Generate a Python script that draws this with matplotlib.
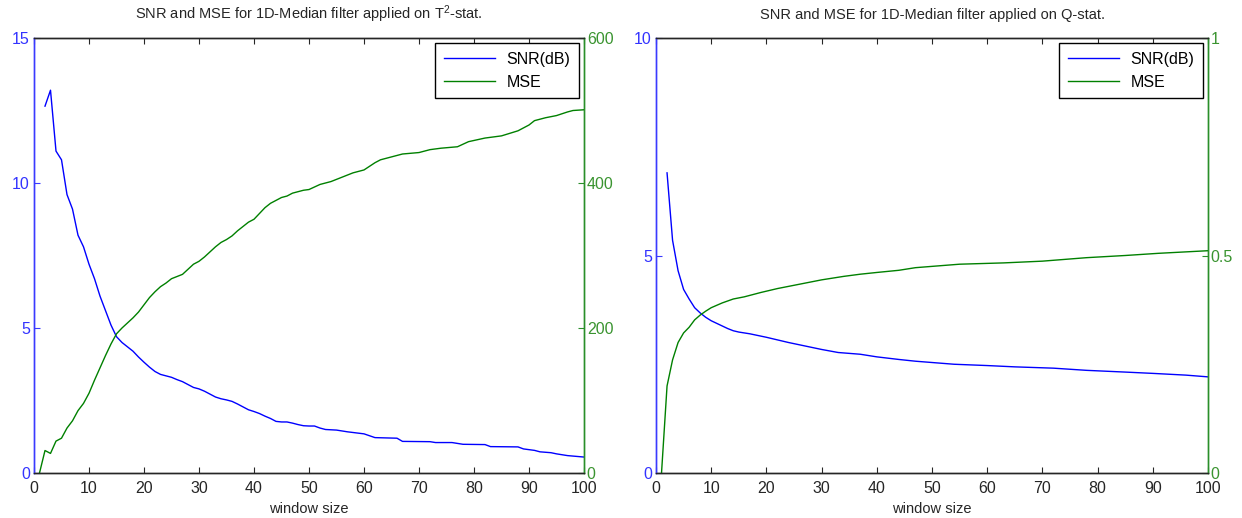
import matplotlib
matplotlib.use("Agg")
import matplotlib.pyplot as plt

plt.rcParams['font.family'] = ['Liberation Sans', 'DejaVu Sans']
plt.rcParams['mathtext.default'] = 'regular'

# ---- T^2-stat data ----
t2_snr_x = [2, 3, 4, 5, 6, 7, 8, 9, 10, 11, 12, 13, 14, 15, 16, 17, 18, 19, 20,
            21, 22, 23, 24, 25, 26, 27, 28, 29, 30, 31, 32, 33, 34, 35, 36, 37, 38,
            39, 40, 41, 42, 43, 44, 45, 46, 47, 48, 49, 50, 51, 52, 53, 55, 57, 60,
            62, 66, 67, 72, 73, 76, 78, 82, 83, 88, 89, 91, 92, 94, 95, 97, 100]
t2_snr_y = [12.65, 13.2, 11.1, 10.8, 9.6, 9.1, 8.2, 7.8, 7.2, 6.7, 6.1, 5.6, 5.1, 4.7,
            4.5, 4.35, 4.2, 4.0, 3.82, 3.65, 3.5, 3.4, 3.35, 3.3, 3.22, 3.15, 3.05, 2.95,
            2.9, 2.82, 2.72, 2.62, 2.56, 2.52, 2.47, 2.38, 2.28, 2.18, 2.12, 2.05, 1.96,
            1.88, 1.78, 1.76, 1.76, 1.72, 1.67, 1.63, 1.62, 1.62, 1.55, 1.5, 1.48, 1.42,
            1.35, 1.22, 1.2, 1.09, 1.08, 1.05, 1.05, 0.99, 0.98, 0.91, 0.9, 0.83, 0.78,
            0.73, 0.7, 0.66, 0.6, 0.55]
t2_mse_x = [1, 2, 3, 4, 5, 6, 7, 8, 9, 10, 11, 12, 13, 14, 15, 16, 17, 18, 19, 20,
            21, 22, 23, 24, 25, 26, 27, 28, 29, 30, 31, 32, 33, 34, 35, 36, 37, 38, 39,
            40, 41, 42, 43, 44, 45, 46, 47, 48, 49, 50, 52, 54, 56, 58, 60, 62, 63, 65,
            67, 70, 72, 74, 77, 79, 82, 85, 88, 90, 91, 93, 95, 97, 98, 100]
t2_mse_y = [0, 31, 27, 44, 48, 62, 72, 86, 96, 110, 128, 145, 162, 178, 192, 200, 207,
            214, 222, 232, 242, 250, 257, 262, 268, 271, 274, 281, 288, 292, 298, 305,
            312, 318, 322, 327, 334, 340, 346, 350, 358, 366, 372, 376, 380, 382, 386,
            388, 390, 391, 398, 402, 408, 414, 418, 428, 432, 436, 440, 442, 446, 448,
            450, 457, 462, 465, 472, 480, 486, 490, 493, 498, 500, 501]

# ---- Q-stat data ----
q_snr_x = [2, 3, 4, 5, 6, 7, 8, 9, 10, 11, 12, 13, 14, 15, 17, 20, 22, 24, 27, 30,
           33, 37, 40, 44, 47, 50, 54, 60, 65, 72, 78, 85, 90, 96, 100]
q_snr_y = [6.9, 5.35, 4.65, 4.22, 4.0, 3.8, 3.68, 3.58, 3.5, 3.44, 3.38, 3.32, 3.27,
           3.24, 3.2, 3.12, 3.06, 3.0, 2.92, 2.84, 2.77, 2.73, 2.67, 2.61, 2.57, 2.54,
           2.5, 2.47, 2.44, 2.41, 2.36, 2.32, 2.29, 2.25, 2.21]
q_mse_x = [1, 2, 3, 4, 5, 6, 7, 8, 9, 10, 12, 14, 16, 19, 22, 26, 30, 34, 37, 40, 44,
           47, 55, 63, 70, 78, 85, 91, 100]
q_mse_y = [0, 0.2, 0.26, 0.3, 0.322, 0.335, 0.352, 0.363, 0.372, 0.38, 0.391, 0.4,
           0.405, 0.415, 0.424, 0.434, 0.444, 0.452, 0.457, 0.461, 0.466, 0.472, 0.48,
           0.483, 0.487, 0.495, 0.5, 0.505, 0.511]

x_ticks = list(range(0, 101, 10))
t2_snr_ticks = [0, 5, 10, 15]
t2_mse_ticks = [0, 200, 400, 600]
q_snr_ticks = [0, 5, 10]
q_mse_ticks = [0, 0.5, 1]
q_mse_labels = ['0', '0.5', '1']

titles = ['SNR and MSE for 1D-Median filter applied on T$^{2}$-stat.',
          'SNR and MSE for 1D-Median filter applied on Q-stat.']
xlabel = 'window size'
labels = ['SNR(dB)', 'MSE']

BLUE = '#0000ff'
GREEN = '#008000'
BLUE_AX = '#3a3aff'
GREEN_AX = '#2a8f2a'
BLUE_TXT = '#3333ff'
GREEN_TXT = '#3a9430'
DARK = '#262626'

fig = plt.figure(figsize=(12.42, 5.18), dpi=100)
H = 518.0
W = 1242.0
bottom = (H - 473) / H
height = (473 - 38) / H
positions = [(34 / W, bottom, (584 - 34) / W, height),
             (656 / W, bottom, (1208 - 656) / W, height)]

datasets = [
    (t2_snr_x, t2_snr_y, t2_mse_x, t2_mse_y, t2_snr_ticks, t2_mse_ticks, None),
    (q_snr_x, q_snr_y, q_mse_x, q_mse_y, q_snr_ticks, q_mse_ticks, q_mse_labels),
]

for i, (sx, sy, mx, my, sticks, mticks, mlabels) in enumerate(datasets):
    ax = fig.add_axes(positions[i])
    ax2 = ax.twinx()
    l1, = ax.plot(sx, sy, color=BLUE, lw=1.0)
    l2, = ax2.plot(mx, my, color=GREEN, lw=1.0)
    ax.set_xlim(0, 100)
    ax.set_ylim(sticks[0], sticks[-1])
    ax2.set_ylim(mticks[0], mticks[-1])
    ax.set_xticks(x_ticks)
    ax.set_yticks(sticks)
    ax2.set_yticks(mticks)
    if mlabels is not None:
        ax2.set_yticklabels(mlabels)
    ax.tick_params(axis='x', direction='in', top=True, length=4, labelsize=11.5,
                   colors=DARK, pad=6)
    ax.tick_params(axis='y', direction='in', length=4, labelsize=11.5, color=BLUE_AX,
                   labelcolor=BLUE_TXT, pad=3)
    ax2.tick_params(axis='y', direction='in', length=4, labelsize=11.5, color=GREEN_AX,
                    labelcolor=GREEN_TXT, pad=2)
    for a in (ax, ax2):
        for s in a.spines.values():
            s.set_linewidth(1.0)
        a.spines['top'].set_color(DARK)
        a.spines['bottom'].set_color(DARK)
        a.spines['left'].set_color(BLUE_AX)
        a.spines['right'].set_color(GREEN_AX)
    ax.set_title(titles[i], fontsize=10.5, color=DARK, pad=14)
    ax.set_xlabel(xlabel, fontsize=10.5, color=DARK, labelpad=4)
    leg = ax2.legend([l1, l2], labels, loc='upper right', fontsize=11.5,
                     frameon=True, fancybox=False, framealpha=1, edgecolor='black',
                     borderaxespad=0.3, handlelength=3.2, handletextpad=0.7,
                     labelspacing=0.5, borderpad=0.55)
    leg.get_frame().set_linewidth(1.0)

fig.savefig('out.png', dpi=100)
